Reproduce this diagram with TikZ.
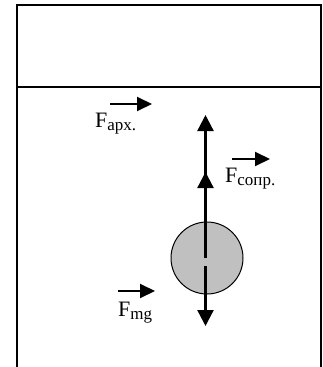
\documentclass[tikz,border=0pt]{standalone}
\usepackage{fontspec}
\setmainfont{Liberation Serif}
\usepackage{tikz}
\usetikzlibrary{arrows.meta,calc}
\definecolor{ballgray}{HTML}{C0C0C0}
\newcommand{\lowsub}[1]{\raisebox{-3pt}{\fontsize{17}{19}\selectfont #1}}
\tikzset{
  wall/.style ={line width=1.3pt, draw=black},
  ball/.style ={circle, draw=black, line width=1pt, fill=ballgray,
                minimum size=72pt, inner sep=0pt},
  force/.style={-{Triangle[length=16pt,width=16pt]}, line width=2.3pt},
  vec/.style  ={-{Triangle[length=15pt,width=14pt]}, line width=2pt},
  lbl/.style  ={inner sep=0pt, anchor=base west, font=\fontsize{22}{26}\selectfont},
}
\begin{document}
\begin{tikzpicture}[x=1pt,y=-1pt]
  \useasboundingbox (0,0) rectangle (323,367);
  % vessel
  \draw[wall] (17,367) -- (17,5) -- (321,5) -- (321,367);
  \draw[wall] (17,87) -- (321,87);
  % ball
  \node[ball] (ball) at (207,258) {};
  \coordinate (up0) at (205.5,258);
  \coordinate (dn0) at (205.5,266);
  \coordinate (archtip) at (205.5,115);
  \coordinate (soprtip) at (205.5,172);
  \coordinate (mgtip) at (205.5,326);

  % forces
  \draw[force] (up0) -- (archtip);
  \draw[force] (up0) -- (soprtip);
  \draw[force] (dn0) -- (mgtip);

  % labels
  \node[lbl] (farch) at (95,127) {F\lowsub{арх.}};
  \node[lbl] (fsopr) at (225,182) {F\lowsub{сопр.}};
  \node[lbl] (fmg) at (118,316) {F\lowsub{mg}};
  \draw[vec] ($(farch.base west)+(15,-23)$) -- ++(42,0);
  \draw[vec] ($(fsopr.base west)+(7,-23)$) -- ++(38,0);
  \draw[vec] ($(fmg.base west)+(0,-25)$) -- ++(37,0);
\end{tikzpicture}
\end{document}
